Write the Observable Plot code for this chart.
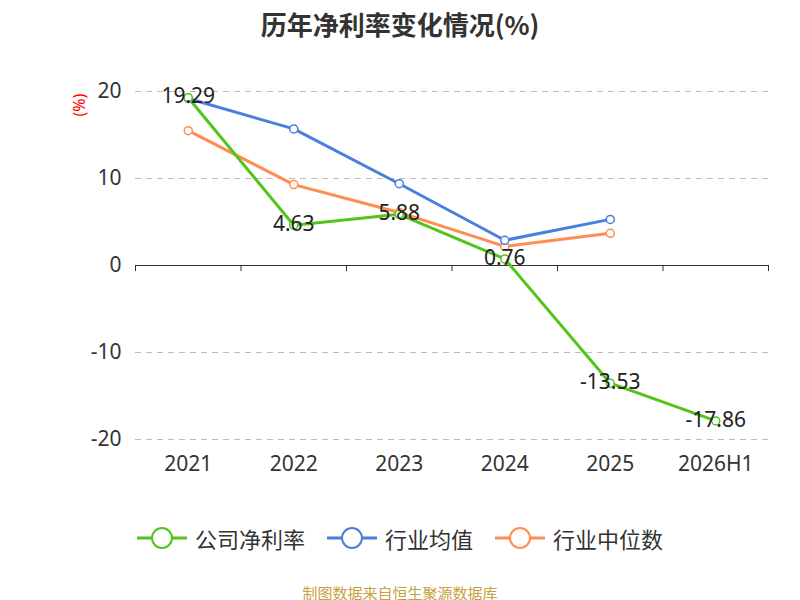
<!DOCTYPE html><html><head><meta charset="utf-8">
<script src="https://cdn.jsdelivr.net/npm/d3@7"></script>
<script src="https://cdn.jsdelivr.net/npm/@observablehq/plot@0.6"></script>
<style>body{margin:0;font-family:"Noto Sans CJK SC","Noto Sans",sans-serif;background:#fff}
#t{height:50px;line-height:48px;text-align:center;font-size:26px;font-weight:bold;color:#333}
#lg{display:flex;justify-content:center;gap:22px;font-size:22px;color:#333;margin-top:32px}
#lg span{display:flex;align-items:center;gap:8px}
#c{text-align:center;color:#c8a040;font-size:15px;margin-top:28px}</style></head><body>
<div id="t">历年净利率变化情况(%)</div><div id="ch"></div>
<div id="lg"></div><div id="c">制图数据来自恒生聚源数据库</div>
<script>
const categories=["2021","2022","2023","2024","2025","2026H1"];
const company=[19.29,4.63,5.88,0.76,-13.53,-17.86];
const industryAvg=[19.2,15.7,9.4,2.9,5.3];
const industryMed=[15.5,9.3,6.1,2.2,3.7];
const yTicks=[-20,-10,0,10,20];
const colors=["#52c41a","#4a7fe0","#ff8c50"];
const names=["公司净利率","行业均值","行业中位数"];
const s=(arr,k)=>arr.map((v,i)=>({i,v,k}));
const all=[...s(company,0),...s(industryAvg,1),...s(industryMed,2)];
const bounds=d3.range(-0.5,6,1);
const p=Plot.plot({width:800,height:440,marginLeft:135,marginRight:32,marginTop:41,marginBottom:51,
style:{fontSize:"20px",fontFamily:"Noto Sans, sans-serif",color:"#333"},
x:{domain:[-0.5,5.5]},y:{domain:[-20,20]},
marks:[
Plot.gridY(yTicks,{stroke:"#bbb",strokeOpacity:1,strokeDasharray:"6,5"}),
Plot.axisY(yTicks,{tickSize:0,tickPadding:14,label:null,tickFormat:d=>String(d),fontSize:21}),
Plot.axisX(d3.range(6),{tickSize:0,tickFormat:i=>categories[i],label:null,tickPadding:17,fontSize:21}),
Plot.ruleY([0],{stroke:"#333"}),
Plot.ruleX(bounds,{y1:0,y2:-0.7,stroke:"#333"}),
Plot.text(["(%)"],{frameAnchor:"top-left",dx:-62,dy:25,rotate:-90,fill:"red",fontSize:16}),
...[2,1,0].map(k=>Plot.line(all.filter(d=>d.k===k),{x:"i",y:"v",stroke:colors[k],strokeWidth:3})),
...[2,1,0].map(k=>Plot.dot(all.filter(d=>d.k===k),{x:"i",y:"v",stroke:colors[k],fill:"#fff",r:4,strokeWidth:1.5})),
Plot.text(s(company,0),{x:"i",y:"v",text:d=>d.v.toFixed(2),fill:"#222",fontSize:21,dy:-1})
]});
document.getElementById("ch").append(p);
document.getElementById("lg").innerHTML=names.map((n,k)=>`<span><svg width="50" height="24"><line x1="0" y1="12" x2="50" y2="12" stroke="${colors[k]}" stroke-width="3"/><circle cx="25" cy="12" r="10" fill="#fff" stroke="${colors[k]}" stroke-width="2"/></svg>${n}</span>`).join("");
</script></body></html>
